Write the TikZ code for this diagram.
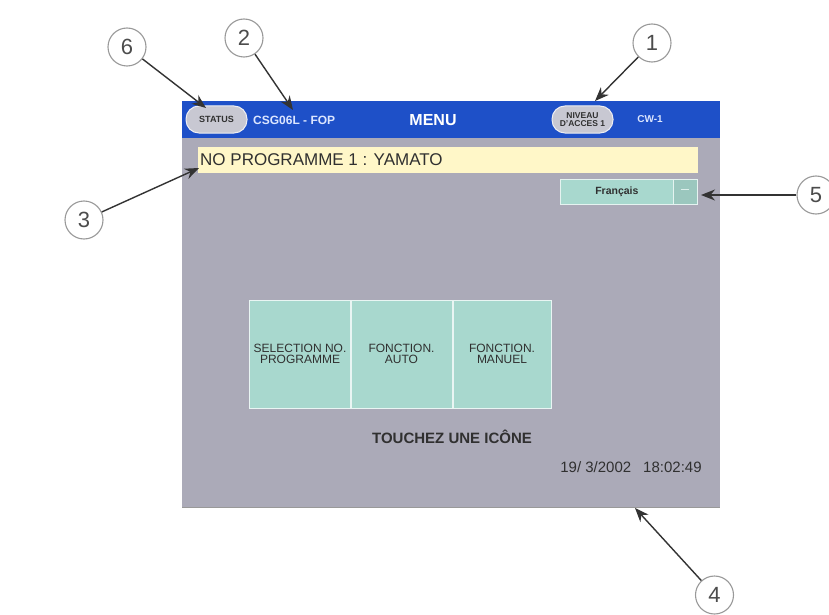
\documentclass[tikz,border=0pt]{standalone}
\usepackage{fontspec}
\setmainfont{Liberation Sans}
\usetikzlibrary{arrows.meta}
\definecolor{barblue}{HTML}{1E50C8}
\definecolor{screengray}{HTML}{ABAAB8}
\definecolor{yelbar}{HTML}{FFF7C8}
\definecolor{btnteal}{HTML}{A8D8CE}
\definecolor{ovalgray}{HTML}{C8C8D2}
\definecolor{darktext}{HTML}{303030}
\definecolor{hdrtext}{HTML}{DCE6FF}
\begin{document}
\begin{tikzpicture}[x=1pt,y=-1pt,
  callout/.style={circle,draw=black!40,line width=1.1pt,fill=white,minimum size=38pt,inner sep=0pt,
    font=\fontsize{22}{22}\selectfont,text=black!70},
  pointer/.style={-{Stealth[length=14pt,width=11pt]},line width=1.4pt,draw=black!80},
  ovalbtn/.style={rectangle,rounded corners=13pt,fill=ovalgray,draw=white!70!ovalgray,line width=1pt,
    minimum width=61pt,minimum height=27pt,inner sep=0pt,align=center,text=darktext,
    font=\bfseries\fontsize{8.5}{8.5}\selectfont},
  menubtn/.style={rectangle,fill=btnteal,draw=white!75!btnteal,line width=1pt,minimum height=108pt,
    inner sep=0pt,align=center,text=darktext,font=\fontsize{12}{11}\selectfont},
  hdr/.style={text=hdrtext,font=\bfseries\fontsize{12}{12}\selectfont,inner sep=0pt}
]
\useasboundingbox (0,0) rectangle (829,615);
\fill[white] (0,0) rectangle (829,615);
% screen
\node[rectangle,fill=screengray,minimum width=538pt,minimum height=406pt,inner sep=0pt,anchor=north west] (screen) at (182,101) {};
\draw[black!40,line width=1pt] (screen.south west) -- (screen.south east);
\node[rectangle,fill=barblue,minimum width=538pt,minimum height=37pt,inner sep=0pt,anchor=north west] (bar) at (182,101) {};
% header items
\node[ovalbtn,font=\bfseries\fontsize{9}{9}\selectfont] (status) at (216.5,119.5) {STATUS};
\node[hdr,anchor=west] (csg) at (253,120) {CSG06L - FOP};
\node[text=white,font=\bfseries\fontsize{16}{16}\selectfont,inner sep=0pt] (menu) at (433,120) {MENU};
\node[ovalbtn] (niveau) at (582.5,119.5) {NIVEAU\\D'ACCES 1};
\node[hdr,font=\bfseries\fontsize{10}{10}\selectfont] (cw) at (650,119.5) {CW-1};
% program bar
\node[rectangle,fill=yelbar,minimum width=500pt,minimum height=26pt,inner sep=0pt,anchor=north west] (prog) at (198,147) {};
\node[anchor=west,inner sep=0pt,text=darktext,font=\fontsize{17}{17}\selectfont] (progtxt) at (200,160) {NO PROGRAMME 1 : YAMATO};
% language selector
\node[rectangle,fill=btnteal,draw=white!70!btnteal,line width=0.8pt,minimum width=113pt,minimum height=25pt,inner sep=0pt,anchor=north west,
  text=darktext,font=\bfseries\fontsize{10.5}{10.5}\selectfont] (lang) at (560,179) {Français};
\node[rectangle,fill=btnteal!92!black,draw=white!70!btnteal,line width=0.8pt,minimum width=24pt,minimum height=25pt,inner sep=0pt,anchor=north west] (langarrow) at (673,179) {};
\draw[white!60!btnteal,line width=0.8pt] ([xshift=-4pt,yshift=3pt]langarrow.center) -- ([xshift=4pt,yshift=3pt]langarrow.center);
% menu buttons
\node[menubtn,minimum width=101pt] (sel) at (300,354) {SELECTION NO.\\PROGRAMME};
\node[menubtn,minimum width=101pt] (auto) at (401.5,354) {FONCTION.\\AUTO};
\node[menubtn,minimum width=98pt] (manuel) at (502,354) {FONCTION.\\MANUEL};
\node[inner sep=0pt,text=darktext,font=\bfseries\fontsize{15}{15}\selectfont] (touch) at (452,437) {TOUCHEZ UNE ICÔNE};
\node[inner sep=0pt,text=darktext,font=\fontsize{15}{15}\selectfont] (date) at (631,467) {19/ 3/2002\hspace{12pt}18:02:49};
% callouts
\node[callout] (c6) at (127,47) {6};
\node[callout] (c2) at (244,38) {2};
\node[callout] (c1) at (652,43) {1};
\node[callout] (c3) at (84,220) {3};
\node[callout] (c5) at (816,195) {5};
\node[callout] (c4) at (714.5,595) {4};
\coordinate (t6) at (206,108);
\coordinate (t2) at (293,110);
\coordinate (t1) at (595,101);
\coordinate (t3) at (199,168);
\coordinate (t5) at (701,195);
\coordinate (t4) at (635,508);
\draw[pointer] (c6) -- (t6);
\draw[pointer] (c2) -- (t2);
\draw[pointer] (c1) -- (t1);
\draw[pointer] (c3) -- (t3);
\draw[pointer] (c5) -- (t5);
\draw[pointer] (c4) -- (t4);
\end{tikzpicture}
\end{document}
